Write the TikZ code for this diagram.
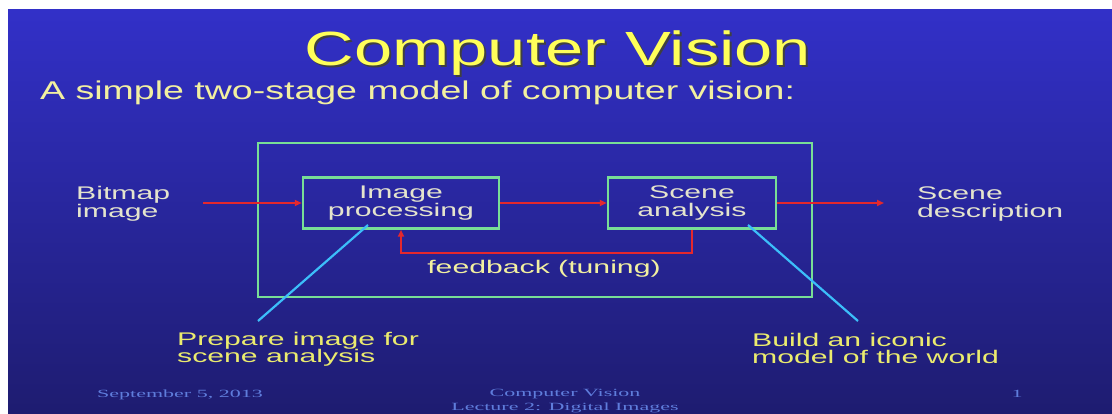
\documentclass[tikz,border=0pt]{standalone}
\usepackage{fontspec}
\setmainfont{Liberation Sans}
\newfontfamily\titlefont[FakeStretch=1.43]{Liberation Sans}
\newfontfamily\subfont[FakeStretch=1.46]{Liberation Sans}
\newfontfamily\bodyfont[FakeStretch=1.65]{Liberation Sans}
\newfontfamily\footfont[FakeStretch=2.0]{Liberation Serif}
\usetikzlibrary{arrows.meta,positioning}

\definecolor{slideblue}{RGB}{50,48,200}
\definecolor{slidemid}{RGB}{42,40,180}
\definecolor{slidedark}{RGB}{30,28,112}
\definecolor{boxgreen}{RGB}{120,222,150}
\definecolor{flowred}{RGB}{228,40,45}
\definecolor{pointcyan}{RGB}{60,190,250}
\definecolor{titleyellow}{RGB}{255,255,90}
\definecolor{subyellow}{RGB}{242,240,160}
\definecolor{labelwhite}{RGB}{228,228,205}
\definecolor{noteyellow}{RGB}{235,235,110}
\definecolor{footblue}{RGB}{95,125,220}

\begin{document}
\begin{tikzpicture}[x=1pt,y=-1pt,
    stagebox/.style={draw=boxgreen, line width=2.5pt, minimum height=51pt, inner sep=0pt,
        align=center, text=labelwhite, font=\bodyfont\fontsize{18.3}{17.5}\selectfont},
    flow/.style={draw=flowred, line width=2.2pt, -{Triangle[length=7pt,width=6pt]}},
    pointer/.style={draw=pointcyan, line width=2.2pt},
    sidetext/.style={inner sep=0pt, align=left, text=labelwhite, font=\bodyfont\fontsize{18.3}{17.5}\selectfont},
    notetext/.style={sidetext, text=noteyellow},
    foottext/.style={inner sep=0pt, text=footblue, font=\footfont\fontsize{11}{14}\selectfont}]

    \useasboundingbox (0,0) rectangle (1112,414);

    % 背景
    \fill[white] (0,0) rectangle (1112,414);
    \shade[top color=slideblue, middle color=slidemid, bottom color=slidedark] (8,10) rectangle (1112,414);

    % 标题
    \node[anchor=base, inner sep=0pt, text=black!75, font=\titlefont\fontsize{48}{54}\selectfont] (titleshadow) at (560,68) {Computer Vision};
    \node[anchor=base, inner sep=0pt, text=titleyellow, font=\titlefont\fontsize{48}{54}\selectfont] (title) at (558,66) {Computer Vision};
    \node[anchor=base west, inner sep=0pt, text=subyellow, font=\subfont\fontsize{25.7}{30}\selectfont] (subtitle) at (40,100) {A simple two-stage model of computer vision:};

    % 外框
    \draw[boxgreen, line width=2.5pt] (258,143) rectangle (812,297);

    % 两个处理阶段
    \node[stagebox, minimum width=196pt] (imgproc) at (401,203) {Image\\processing};
    \node[stagebox, minimum width=168pt] (scene) at (692,203) {Scene\\analysis};

    % 输入和输出
    \node[sidetext, anchor=west] (bitmap) at (76,204) {Bitmap\\image};
    \node[sidetext, anchor=west] (descr) at (917,204) {Scene\\description};
    \coordinate (bitmapend) at (203,203);
    \coordinate (descrend) at (884,203);

    % 红色箭头
    \draw[flow] (bitmapend) -- (imgproc.west);
    \draw[flow] (imgproc.east) -- (scene.west);
    \draw[flow] (scene.east) -- (descrend);
    \draw[flow] (scene.south) -- ++(0,23) -| (imgproc.south);
    \node[sidetext, text=subyellow] (feedback) at (544,269) {feedback (tuning)};

    % 说明文字和指示线
    \node[notetext, anchor=north west] (prep) at (177,332) {Prepare image for\\scene analysis};
    \node[notetext, anchor=north west] (build) at (752,333) {Build an iconic\\model of the world};
    \coordinate (procpt) at (368,225);
    \coordinate (preppt) at (258,321);
    \coordinate (scenept) at (748,225);
    \coordinate (buildpt) at (858,321);
    \draw[pointer] (procpt) -- (preppt);
    \draw[pointer] (scenept) -- (buildpt);

    % 页脚
    \node[foottext, anchor=base west] (date) at (97,397) {September 5, 2013};
    \node[foottext, anchor=north, align=center] (course) at (565,389.5) {Computer Vision\\Lecture 2: Digital Images};
    \node[foottext, anchor=base] (page) at (1017,397) {1};

\end{tikzpicture}
\end{document}
